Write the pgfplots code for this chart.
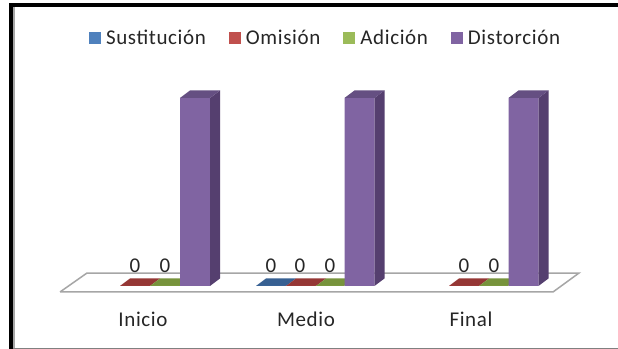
\documentclass[border=0pt]{standalone}
\usepackage{pgfplots}
\usepackage{fontspec}
\setmainfont[LetterSpace=3]{Carlito}
\pgfplotsset{compat=1.18}
\definecolor{cblue}{HTML}{4F81BD}
\definecolor{cred}{HTML}{C0504D}
\definecolor{cgreen}{HTML}{9BBB59}
\definecolor{cpurple}{HTML}{8064A2}
\definecolor{tblue}{HTML}{376092}
\definecolor{tred}{HTML}{953735}
\definecolor{tgreen}{HTML}{77933C}
\definecolor{tpurple}{HTML}{654F82}
\definecolor{spurple}{HTML}{553F6F}
\definecolor{txt}{HTML}{262626}
\definecolor{floorc}{HTML}{A6A6A6}
\begin{document}
\begin{tikzpicture}
\begin{axis}[
  scale only axis, width=618pt, height=349pt,
  xmin=0, xmax=618, ymin=-33.51, ymax=152.13,
  axis lines=none, clip=false,
  /pgf/number format/assume math mode=true,
  ybar, bar width=30pt,
  legend columns=4,
  legend style={at={(0.526,0.891)},anchor=center,draw=none,fill=none,font=\fontsize{21}{23}\selectfont\color{txt},
    /tikz/every even column/.append style={column sep=22pt},
    /tikz/every odd column/.append style={column sep=4pt},
    inner sep=0pt, nodes={inner sep=1pt}},
  legend image code/.code={\fill[#1,draw=none] (0pt,-6pt) rectangle (12pt,6pt);},
  nodes near coords style={font=\fontsize{21}{23}\selectfont\color{txt},anchor=center,yshift=20pt},
]
% page extent and frame of the pasted picture
\path[fill=white] (axis cs:0,-33.51) rectangle (axis cs:618,152.13);
\fill[black] (axis cs:9,150.5) rectangle (axis cs:618,148.4);
\fill[black] (axis cs:9,148.4) rectangle (axis cs:13,-33.5);
\fill[gray!70] (axis cs:13,148.4) rectangle (axis cs:15,-33.5);
\fill[gray] (axis cs:13,-33.51) rectangle (axis cs:618,-33);
% floor
\addplot[forget plot,sharp plot,fill=white,draw=floorc,line width=1.5pt,bar shift=0pt] coordinates {(60,-3.19) (87,6.91) (579,6.91) (553,-3.19) (60,-3.19)};
% top faces of the zero-height bars
\addplot[forget plot,sharp plot,fill=tblue,draw=none] coordinates {(256,0) (266,4) (296,4) (286,0)};
\addplot[forget plot,sharp plot,fill=tred,draw=none] coordinates {(120,0) (130,4) (160,4) (150,0)};
\addplot[forget plot,sharp plot,fill=tred,draw=none] coordinates {(286,0) (296,4) (326,4) (316,0)};
\addplot[forget plot,sharp plot,fill=tred,draw=none] coordinates {(449,0) (459,4) (489,4) (479,0)};
\addplot[forget plot,sharp plot,fill=tgreen,draw=none] coordinates {(150,0) (160,4) (190,4) (180,0)};
\addplot[forget plot,sharp plot,fill=tgreen,draw=none] coordinates {(316,0) (326,4) (354,4) (344,0)};
\addplot[forget plot,sharp plot,fill=tgreen,draw=none] coordinates {(479,0) (489,4) (518,4) (508,0)};
% series
\addplot[fill=cblue,draw=none,bar shift=0pt,nodes near coords] coordinates {(271,0)};
\addlegendentry{Sustitución}
\addplot[fill=cred,draw=none,bar shift=0pt,nodes near coords] coordinates {(135,0) (300,0) (464,0)};
\addlegendentry{Omisión}
\addplot[fill=cgreen,draw=none,bar shift=0pt,nodes near coords] coordinates {(165,0) (330,0) (494,0)};
\addlegendentry{Adición}
\addplot[fill=cpurple,draw=none,bar shift=0pt] coordinates {(195,100) (359.5,100) (523.5,100)};
\addlegendentry{Distorción}
% sides and tops of the tall bars
\addplot[forget plot,sharp plot,fill=spurple,draw=none] coordinates {(210,0) (220,4) (220,104) (210,100)};
\addplot[forget plot,sharp plot,fill=spurple,draw=none] coordinates {(374.5,0) (384.5,4) (384.5,104) (374.5,100)};
\addplot[forget plot,sharp plot,fill=spurple,draw=none] coordinates {(538.5,0) (548.5,4) (548.5,104) (538.5,100)};
\addplot[forget plot,sharp plot,fill=tpurple,draw=none] coordinates {(180,100) (190,104) (220,104) (210,100)};
\addplot[forget plot,sharp plot,fill=tpurple,draw=none] coordinates {(344.5,100) (354.5,104) (384.5,104) (374.5,100)};
\addplot[forget plot,sharp plot,fill=tpurple,draw=none] coordinates {(508.5,100) (518.5,104) (548.5,104) (538.5,100)};
% category names
\node[font=\fontsize{21}{23}\selectfont\color{txt}] at (axis cs:143,-17.5) {Inicio};
\node[font=\fontsize{21}{23}\selectfont\color{txt}] at (axis cs:306,-17.5) {Medio};
\node[font=\fontsize{21}{23}\selectfont\color{txt}] at (axis cs:471,-17.5) {Final};
\end{axis}
\end{tikzpicture}
\end{document}
